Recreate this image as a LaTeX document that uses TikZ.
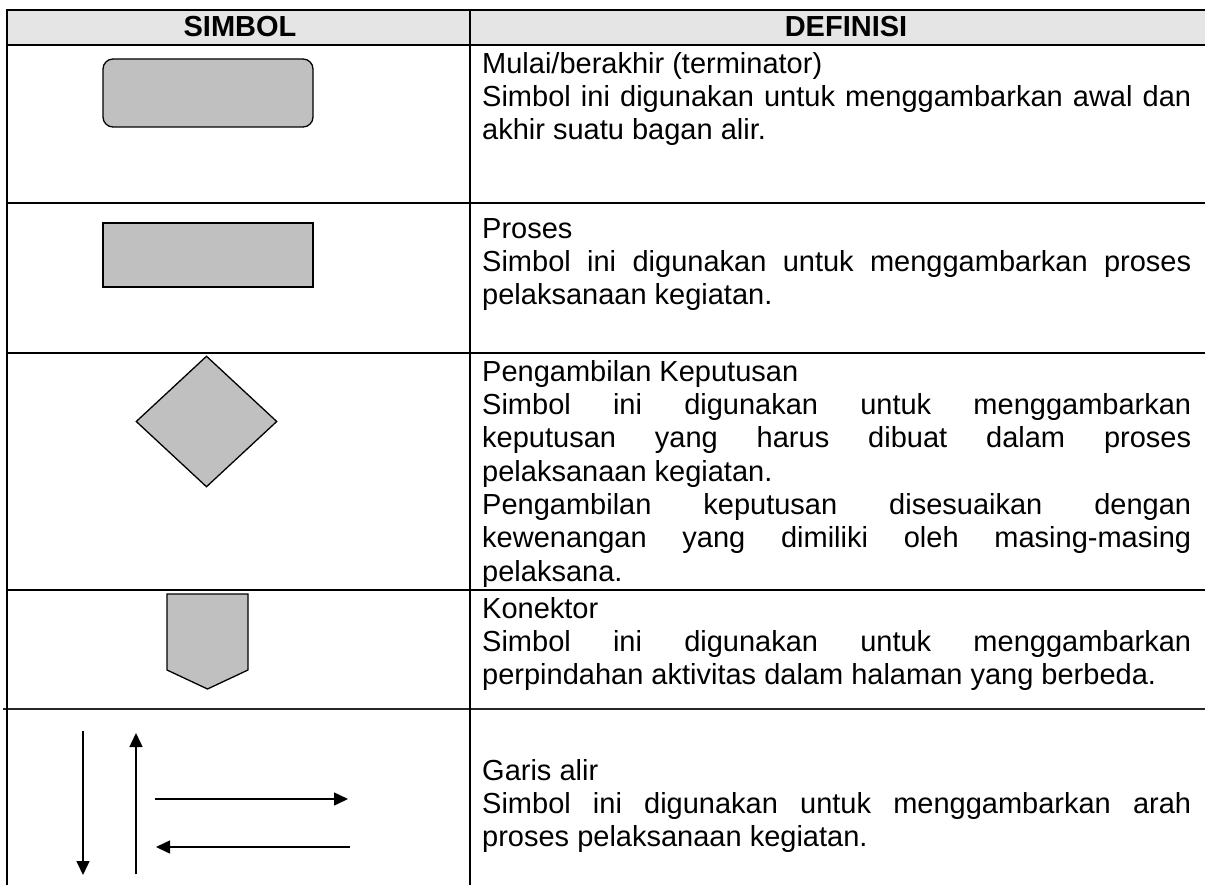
\documentclass[tikz,border=0pt]{standalone}
\usepackage{fontspec}
\setmainfont{Liberation Sans}
\usetikzlibrary{shapes.geometric,arrows.meta}
\definecolor{headgrey}{HTML}{E5E5E5}
\definecolor{symgrey}{HTML}{C0C0C0}
\tolerance=10000

\begin{document}
\begin{tikzpicture}[
	x=1pt, y=-1pt,
	rule/.style={line width=2pt},
	symbol/.style={draw=black, fill=symgrey, line width=1.3pt, inner sep=0pt},
	head/.style={font=\fontsize{29}{33}\selectfont\bfseries, anchor=base, inner sep=0pt},
	defn/.style={anchor=north west, inner sep=0pt, text width=709pt, align=justify, font=\fontsize{29}{33.3}\selectfont},
	flow/.style={line width=1.5pt, -{Triangle[length=14pt, width=13pt]}}
	]
	\useasboundingbox (0,0) rectangle (1205,885);

	\fill[headgrey] (7,10) rectangle (1205,45);
	\node (simbol) [head] at (240,37) {SIMBOL};
	\node (definisi) [head] at (846,37) {DEFINISI};

		\node (terminator) [symbol, rectangle, rounded corners=10pt, minimum width=210pt, minimum height=68pt] at (208,93) {};
		\node (terminatordef) [defn] at (482,49) {\rule{0pt}{24pt}Mulai/berakhir (terminator)\par
			Simbol ini digunakan untuk menggambarkan awal dan\linebreak akhir suatu bagan alir.};

		\node (proses) [symbol, rectangle, minimum width=210pt, minimum height=64pt] at (208,255) {};
		\node (prosesdef) [defn] at (482,214) {\rule{0pt}{24pt}Proses\par
			Simbol ini digunakan untuk menggambarkan proses\linebreak pelaksanaan kegiatan.};

		\node (keputusan) [symbol, diamond, minimum width=141pt, minimum height=131pt] at (206.5,421.5) {};
		\node (keputusandef) [defn] at (482,357) {\rule{0pt}{24pt}Pengambilan Keputusan\par
			Simbol ini digunakan untuk menggambarkan\linebreak keputusan yang harus dibuat dalam proses\linebreak pelaksanaan kegiatan.\par
			Pengambilan keputusan disesuaikan dengan\linebreak kewenangan yang dimiliki oleh masing-masing\linebreak pelaksana.};

		\draw[symbol] (167,594) -- (248,594) -- (248,670) -- (207.5,689) -- (167,670) -- cycle;
		\node (konektordef) [defn] at (482,594) {\rule{0pt}{24pt}Konektor\par
			Simbol ini digunakan untuk menggambarkan\linebreak perpindahan aktivitas dalam halaman yang berbeda.};

		\coordinate (downtop) at (83,731);
		\coordinate (downend) at (83,875);
		\coordinate (upbottom) at (136,874);
		\coordinate (upend) at (136,733);
		\coordinate (rightstart) at (155,799);
		\coordinate (rightend) at (348,799);
		\coordinate (leftstart) at (350,847);
		\coordinate (leftend) at (156,847);
		\draw[flow] (downtop) -- (downend);
		\draw[flow] (upbottom) -- (upend);
		\draw[flow] (rightstart) -- (rightend);
		\draw[flow] (leftstart) -- (leftend);
		\node (garisdef) [defn] at (482,756) {\rule{0pt}{24pt}Garis alir\par
			Simbol ini digunakan untuk menggambarkan arah\linebreak proses pelaksanaan kegiatan.};

	\draw[rule] (7,10) -- (1205,10);
	\draw[rule] (7,45) -- (1205,45);
	\draw[rule] (7,203) -- (1205,203);
	\draw[rule] (7,353) -- (1205,353);
	\draw[rule] (7,590) -- (1205,590);
	\draw[line width=1.6pt, black!85] (3,709) -- (1205,709);
	\draw[rule] (7,9) -- (7,885);
	\draw[rule] (470,9) -- (470,885);

\end{tikzpicture}
\end{document}
